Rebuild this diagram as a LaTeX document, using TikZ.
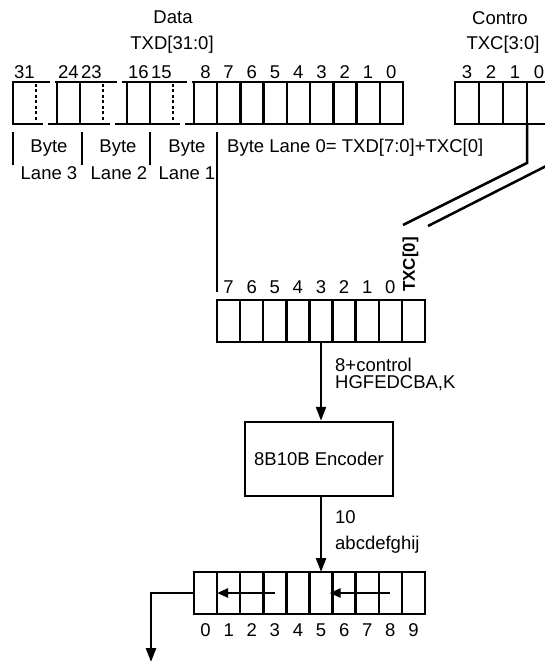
\documentclass[tikz,border=0pt]{standalone}
\usepackage{fontspec}
\setmainfont{Liberation Sans}
\usetikzlibrary{arrows.meta,positioning}
\tikzset{
  cell/.style={draw,line width=2.5pt,minimum width=23.1pt,minimum height=42pt,inner sep=0pt,outer sep=0pt},
  lbl/.style={font=\fontsize{18.5}{20}\selectfont,inner sep=0pt},
  enc_box/.style={draw,line width=2.5pt,minimum width=148pt,minimum height=74pt,
    inner sep=0pt,font=\fontsize{18.5}{20}\selectfont},
  wire/.style={line width=2.5pt},
  brk/.style={line width=2.5pt,dash pattern=on 3pt off 2.5pt},
  arr/.style={-{Triangle[length=14pt,width=10pt]},line width=2.5pt},
  arr_s/.style={-{Triangle[length=11pt,width=9pt]},line width=2.5pt},
}

\begin{document}
\begin{tikzpicture}[x=1pt,y=-1pt]
  \useasboundingbox (0,0) rectangle (544,663);

  % titles
  \node[lbl] (data) at (173,17) {Data};
  \node[lbl] (txd) at (172,45) {TXD[31:0]};
  \node[lbl] (ctl) at (500,18) {Contro};
  \node[lbl] (txc) at (503,45) {TXC[3:0]};

  % byte lanes 3..1 (broken cells)
  \foreach \xa/\xb/\hi/\lo in {13/80/31/24, 80/150/23/16, 150/217/15/8}{
    \draw[wire] (\xa+37,82) -- (\xa,82) -- (\xa,124) -- (\xa+30,124);
    \draw[brk] (\xa+23,84) -- (\xa+23,122);
    \node[cell] (b\lo) at (\xb-11.55,103) {};
    \draw[wire] (\xa+42,82) -- (b\lo.north west);
    \draw[wire] (\xa+35,124) -- (b\lo.south west);
    \node[lbl] at (\xa+11.5,72) {\hi};
    \node[lbl] at (b\lo.center |- 0,72) {\lo};
  }

  % byte lane 0
  \foreach \i in {0,...,7}{
    \pgfmathtruncatemacro{\bit}{7-\i}
    \node[cell,minimum width=23.25pt] (d\bit) at (217+23.25*\i+11.625,103) {};
    \node[lbl] at (d\bit.center |- 0,72) {\bit};
  }

  % control register
  \foreach \i in {0,...,3}{
    \pgfmathtruncatemacro{\bit}{3-\i}
    \node[cell,minimum width=24pt] (c\bit) at (455+24*\i+12,103) {};
    \node[lbl] at (c\bit.center |- 0,72) {\bit};
  }

  % lane captions
  \draw[wire] (13,132) -- (13,165);
  \draw[wire] (82,132) -- (82,165);
  \draw[wire] (150,132) -- (150,165);
  \node[lbl] at (49,148) {Byte};
  \node[lbl] at (49,173) {Lane 3};
  \node[lbl] at (118,148) {Byte};
  \node[lbl] at (119,173) {Lane 2};
  \node[lbl] at (187,148) {Byte};
  \node[lbl] at (187,173) {Lane 1};
  \node[lbl,anchor=west] at (227,148) {Byte Lane 0= TXD[7:0]+TXC[0]};

  % lower register
  \foreach \i in {0,...,8}{
    \node[cell,minimum width=23.11pt] (lo\i) at (217+23.11*\i+11.555,321) {};
  }
  \foreach \i in {0,...,7}{
    \pgfmathtruncatemacro{\bit}{7-\i}
    \node[lbl] at (lo\i.center |- 0,287) {\bit};
  }
  \node[lbl,rotate=90,anchor=west,font=\fontsize{17}{20}\selectfont\bfseries]
    (txc0) at ([xshift=-3pt,yshift=8pt]lo8.north) {TXC[0]};

  \draw[wire] ([yshift=-8pt]d7.south west) -- ([yshift=8pt]lo0.north west);

  % TXC[0] feed
  \coordinate (txcbend) at (527,163);
  \coordinate (txcend) at (403,225);
  \coordinate (nxtstart) at (560,159);
  \coordinate (nxtend) at (428,226);
  \draw[wire] (c0.south west) -- (txcbend) -- (txcend);
  \draw[wire] (nxtstart) -- (nxtend);

  % encoder
  \node[enc_box] (enc) at (319,459) {8B10B Encoder};
  \draw[arr] (lo4.south) -- (lo4.south |- enc.north);
  \node[lbl,anchor=west] at (335,365) {8+control};
  \node[lbl,anchor=west] at (335,383) {HGFEDCBA,K};

  % output register
  \foreach \i in {0,...,9}{
    \node[cell,minimum width=23.1pt] (bt\i) at (194+23.1*\i+11.55,593) {};
    \node[lbl] at (bt\i.center |- 0,630) {\i};
  }
  \draw[arr] (bt5.north |- enc.south) -- (bt5.north);
  \node[lbl,anchor=west] at (335,517) {10};
  \node[lbl,anchor=west] at (335,545) {abcdefghij};

  \draw[arr_s] (bt3.center) -- (bt1.west);
  \draw[arr_s] (bt8.center) -- ([xshift=-3pt]bt6.west);

  \coordinate (out) at (151,662);
  \draw[arr] (bt0.west) -| (out);
\end{tikzpicture}
\end{document}
